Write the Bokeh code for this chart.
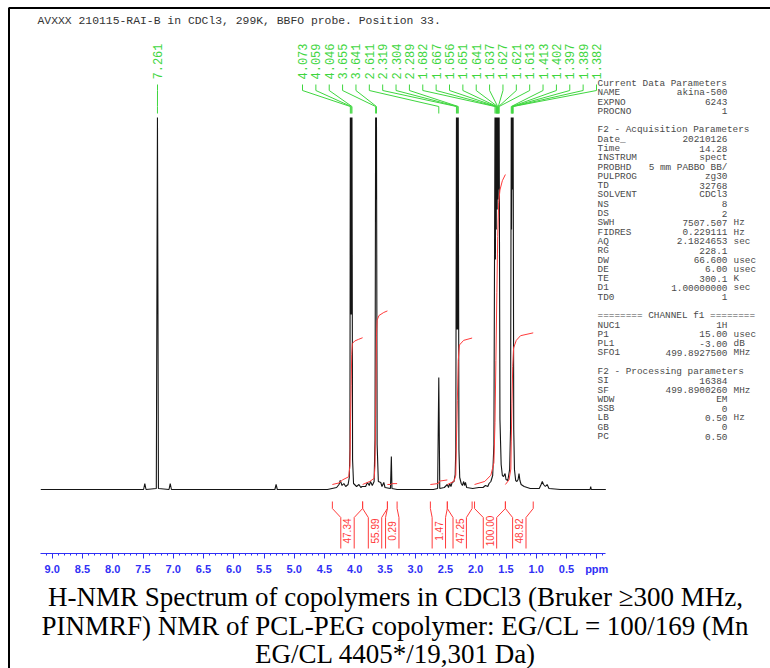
import numpy as np
from bokeh.plotting import figure
from bokeh.models import Range1d, FixedTicker, LinearAxis, PrintfTickFormatter
from bokeh.embed import file_html
from bokeh.resources import INLINE
from bokeh.core.properties import value

# ---------------- data ----------------
header_text = "AVXXX 210115-RAI-B in CDCl3, 299K, BBFO probe.  Position 33."
caption_lines = [
    "H-NMR Spectrum of copolymers in CDCl3 (Bruker \u2265300 MHz,",
    "PINMRF) NMR of PCL-PEG copolymer: EG/CL = 100/169 (Mn",
    "EG/CL 4405*/19,301 Da)",
]

# 1H spectrum trace (chemical shift in ppm, intensity in plot units; tall peaks are cut at the plot limit)
spec_ppm = [9.19, 7.49, 7.47, 7.45, 7.28, 7.261, 7.245, 7.07, 7.05, 7.03,
            5.32, 5.30, 5.28, 4.45, 4.30, 4.26, 4.24, 4.21, 4.18, 4.15, 4.11, 4.09, 4.080,
            4.073, 4.066, 4.059, 4.052, 4.046, 4.036, 4.02, 3.97, 3.93, 3.90, 3.88, 3.82, 3.79,
            3.76, 3.74, 3.71, 3.68, 3.665, 3.655, 3.648, 3.641, 3.630, 3.61, 3.57, 3.55, 3.52,
            3.50, 3.41, 3.395, 3.385, 3.30, 2.70, 2.63, 2.611, 2.595, 2.52, 2.47, 2.45, 2.43,
            2.41, 2.39, 2.36, 2.34, 2.33, 2.319, 2.311, 2.304, 2.296, 2.289, 2.278, 2.265, 2.24,
            2.22, 2.20, 2.185, 2.17, 2.15, 2.05, 1.95, 1.88, 1.84, 1.80, 1.78, 1.75, 1.72, 1.70,
            1.682, 1.675, 1.667, 1.661, 1.656, 1.653, 1.651, 1.646, 1.641, 1.639, 1.637, 1.632,
            1.627, 1.624, 1.621, 1.617, 1.613, 1.600, 1.58, 1.56, 1.54, 1.515, 1.50, 1.47, 1.44,
            1.425, 1.413, 1.408, 1.402, 1.400, 1.397, 1.393, 1.389, 1.386, 1.382, 1.372, 1.36,
            1.34, 1.32, 1.30, 1.285, 1.27, 1.25, 1.20, 1.10, 0.95, 0.92, 0.90, 0.88, 0.85, 0.82,
            0.79, 0.60, 0.11, 0.10, 0.09, -0.15]
spec_int = [0, 0, 6, 0, 1, 372, 1, 0, 6, 0,
            0, 5, 0, 0, 2, 5, 9, 4, 6, 3, 5, 12, 40,
            372, 175, 372, 175, 372, 30, 6, 3, 5, 2, 3, 3, 7,
            4, 8, 4, 8, 50, 372, 290, 372, 45, 8, 7, 3, 7,
            2, 1, 33, 1, 0, 0, 1, 112, 1, 2, 5, 2, 6,
            3, 7, 8, 15, 40, 372, 160, 372, 160, 372, 40, 12, 6,
            4, 8, 4, 7, 2, 1, 2, 2, 4, 3, 6, 8, 14, 45,
            372, 230, 372, 260, 372, 330, 372, 280, 372, 340, 372, 290,
            372, 330, 372, 300, 372, 70, 25, 14, 13, 16, 10, 9, 20,
            60, 372, 260, 372, 330, 372, 300, 372, 320, 372, 60, 20,
            9, 8, 10, 16, 9, 5, 3, 1, 1, 5, 8, 5, 3, 5,
            1, 0, 0, 3, 0, 0]

# picked peaks
peak_labels = ["7.261", "4.073", "4.059", "4.046", "3.655", "3.641", "2.611", "2.319", "2.304",
               "2.289", "1.682", "1.667", "1.656", "1.651", "1.641", "1.637", "1.627", "1.621",
               "1.613", "1.413", "1.402", "1.397", "1.389", "1.382"]
peak_ppm = [float(s) for s in peak_labels]

# integral regions (ppm limits) and integral values
integral_left = [4.37, 3.87, 3.46, 2.75, 2.47, 2.02, 1.51]
integral_right = [3.87, 3.46, 3.30, 2.47, 2.06, 1.51, 1.05]
integral_values = [47.34, 55.99, 0.29, 1.47, 47.25, 100.00, 48.92]
integral_labels = ["47.34", "55.99", "0.29", "1.47", "47.25", "100.00", "48.92"]

# running integral curves inside each region
int_curve_ppm = [
    [4.37, 4.26, 4.20, 4.10, 4.08, 4.07, 4.06, 4.05, 4.04, 4.00, 3.94, 3.87],
    [3.87, 3.75, 3.68, 3.665, 3.655, 3.648, 3.641, 3.63, 3.60, 3.52, 3.46],
    [3.46, 3.40, 3.39, 3.30],
    [2.75, 2.62, 2.60, 2.47],
    [2.47, 2.36, 2.33, 2.319, 2.304, 2.289, 2.27, 2.20, 2.06],
    [2.02, 1.85, 1.75, 1.70, 1.682, 1.667, 1.651, 1.637, 1.621, 1.60, 1.56, 1.51],
    [1.51, 1.45, 1.42, 1.413, 1.402, 1.389, 1.375, 1.33, 1.26, 1.05],
]
int_curve_val = [
    [0, 0.5, 1.5, 2.5, 6, 20, 32, 42, 45.5, 46.3, 46.8, 47.34],
    [0, 1, 2, 6, 22, 34, 48, 53, 54.5, 55.5, 55.99],
    [0, 0.02, 0.27, 0.29],
    [0, 0.3, 1.1, 1.47],
    [0, 1, 3, 14, 27, 40, 45, 46.5, 47.25],
    [0, 1, 3, 7, 20, 40, 62, 80, 91, 95, 98, 100.0],
    [0, 1.5, 5, 14, 26, 38, 44, 46.5, 48, 48.92],
]

axis_ticks = [0.0, 0.5, 1.0, 1.5, 2.0, 2.5, 3.0, 3.5, 4.0, 4.5, 5.0, 5.5, 6.0, 6.5, 7.0,
              7.5, 8.0, 8.5, 9.0]

param_names = ["Current Data Parameters", "NAME", "EXPNO", "PROCNO", "",
               "F2 - Acquisition Parameters", "Date_", "Time", "INSTRUM", "PROBHD", "PULPROG",
               "TD", "SOLVENT", "NS", "DS", "SWH", "FIDRES", "AQ", "RG", "DW", "DE", "TE", "D1",
               "TD0", "", "======== CHANNEL f1 ========", "NUC1", "P1", "PL1", "SFO1", "",
               "F2 - Processing parameters", "SI", "SF", "WDW", "SSB", "LB", "GB", "PC"]
param_values = ["", "akina-500", "6243", "1", "",
                "", "20210126", "14.28", "spect", "5 mm PABBO BB/", "zg30",
                "32768", "CDCl3", "8", "2", "7507.507", "0.229111", "2.1824653", "228.1", "66.600",
                "6.00", "300.1", "1.00000000",
                "1", "", "", "1H", "15.00", "-3.00", "499.8927500", "",
                "", "16384", "499.8900260", "EM", "0", "0.50", "0", "0.50"]
param_units = ["", "", "", "", "",
               "", "", "", "", "", "",
               "", "", "", "", "Hz", "Hz", "sec", "", "usec", "usec", "K", "sec",
               "", "", "", "", "usec", "dB", "MHz", "",
               "", "", "MHz", "", "", "Hz", "", ""]

# ---------------- layout / styling ----------------
W, H = 770, 668                  # canvas = page pixels
PX_REF, PPM_REF, PX_PER_PPM = 566.0, 0.5, 60.5
AXIS_Y = 553
BASELINE = 489
INT_BASE, INT_SCALE = 5.0, 3.1

GREEN = "#3fd63f"
RED = "#ff3b3b"
BLUE = "#3030f5"
GREY = "#4a4a4a"


def xp(px):
    """page x pixel -> ppm"""
    return PPM_REF + (PX_REF - px) / PX_PER_PPM


def yp(py):
    """page y pixel -> intensity units"""
    return BASELINE - py


p = figure(width=W, height=H,
           x_range=Range1d(xp(0), xp(W)),
           y_range=Range1d(yp(H), yp(0)),
           x_axis_type=None, y_axis_type=None,
           output_backend="svg", toolbar_location=None,
           min_border=0, min_border_left=0, min_border_right=0, min_border_top=0,
           min_border_bottom=0)
p.outline_line_color = None
p.background_fill_color = "white"
p.border_fill_color = "white"

# page frame lines (left and top)
p.line([xp(8.5), xp(8.5), xp(W)], [yp(H), yp(7.5), yp(7.5)], line_color="black", line_width=2)

# ppm axis drawn at a fixed position inside the frame
ax = LinearAxis(ticker=FixedTicker(ticks=axis_ticks,
                                   minor_ticks=[round(v, 1) for v in np.arange(-0.1, 9.15, 0.1)]),
                formatter=PrintfTickFormatter(format="%.1f"),
                bounds=(-0.15, 9.2), fixed_location=yp(AXIS_Y))
ax.major_label_overrides = {0: "ppm"}
ax.axis_line_color = BLUE
ax.axis_line_width = 1.2
ax.major_tick_line_color = BLUE
ax.minor_tick_line_color = BLUE
ax.major_tick_in = 0
ax.major_tick_out = 5
ax.minor_tick_in = 0
ax.minor_tick_out = 2
ax.major_label_standoff = 4
ax.major_label_text_font = "Liberation Sans"
ax.major_label_text_font_size = "11px"
ax.major_label_text_font_style = "bold"
ax.major_label_text_color = BLUE
p.add_layout(ax, "below")

# spectrum
p.line(spec_ppm, spec_int, line_color="#151515", line_width=1.1)

# integral curves
for xs_, vs_ in zip(int_curve_ppm, int_curve_val):
    p.line(xs_, [INT_BASE + INT_SCALE * v for v in vs_], line_color=RED, line_width=1)

# integral brackets + labels
half_w = 6.7 / PX_PER_PPM
bx, by = [], []
lab_x = []
for lo, hi in zip(integral_left, integral_right):
    c = (lo + hi) / 2
    lab_x.append(c)
    bx.append([lo, lo, c + half_w, c + half_w])
    by.append([yp(501), yp(508), yp(517), yp(548)])
    bx.append([hi, hi, c - half_w, c - half_w])
    by.append([yp(501), yp(508), yp(517), yp(548)])
p.multi_line(bx, by, line_color=RED, line_width=1)
p.text(lab_x, [yp(530.5)] * len(lab_x), text=integral_labels, angle=np.pi / 2,
       text_align="center", text_baseline="middle", text_color=RED,
       text_font=value("Liberation Sans"), text_font_size="10px")

# peak labels with fan lines
label_px = [157.0] + list(np.linspace(302, 596, len(peak_labels) - 1))
fx, fy = [], []
for lpx, ppm in zip(label_px, peak_ppm):
    fx.append([xp(lpx), xp(lpx), ppm, ppm])
    fy.append([yp(84), yp(90), yp(106), yp(113)])
p.multi_line(fx, fy, line_color=GREEN, line_width=1)
p.text([xp(v) for v in label_px], [yp(61)] * len(label_px), text=peak_labels,
       angle=np.pi / 2, text_align="center", text_baseline="middle", text_color=GREEN,
       text_font=value("Liberation Mono"), text_font_size="12px")

# header
p.text([xp(37)], [yp(20)], text=[header_text], text_align="left", text_baseline="middle",
       text_color="#333333", text_font=value("Liberation Mono"), text_font_size="11.4px")

# parameter block
row_y = [yp(83 + 9.29 * i) for i in range(len(param_names))]
p.text([xp(597)] * len(param_names), row_y, text=param_names, text_align="left",
       text_baseline="middle", text_color=GREY, text_font=value("Liberation Mono"),
       text_font_size="9.4px")
p.text([xp(727)] * len(param_values), row_y, text=param_values, text_align="right",
       text_baseline="middle", text_color=GREY, text_font=value("Liberation Mono"),
       text_font_size="9.4px")
p.text([xp(733)] * len(param_units), row_y, text=param_units, text_align="left",
       text_baseline="middle", text_color=GREY, text_font=value("Liberation Mono"),
       text_font_size="9.4px")

# caption below the axis (vertical centres of the three lines)
cap_mid = [596, 625, 653]
p.text([xp(395)] * len(caption_lines), [yp(v) for v in cap_mid], text=caption_lines,
       text_align="center", text_baseline="middle", text_color="black",
       text_font=value("Liberation Serif"), text_font_size="27px")

open("out.html", "w").write(file_html(p, INLINE))
